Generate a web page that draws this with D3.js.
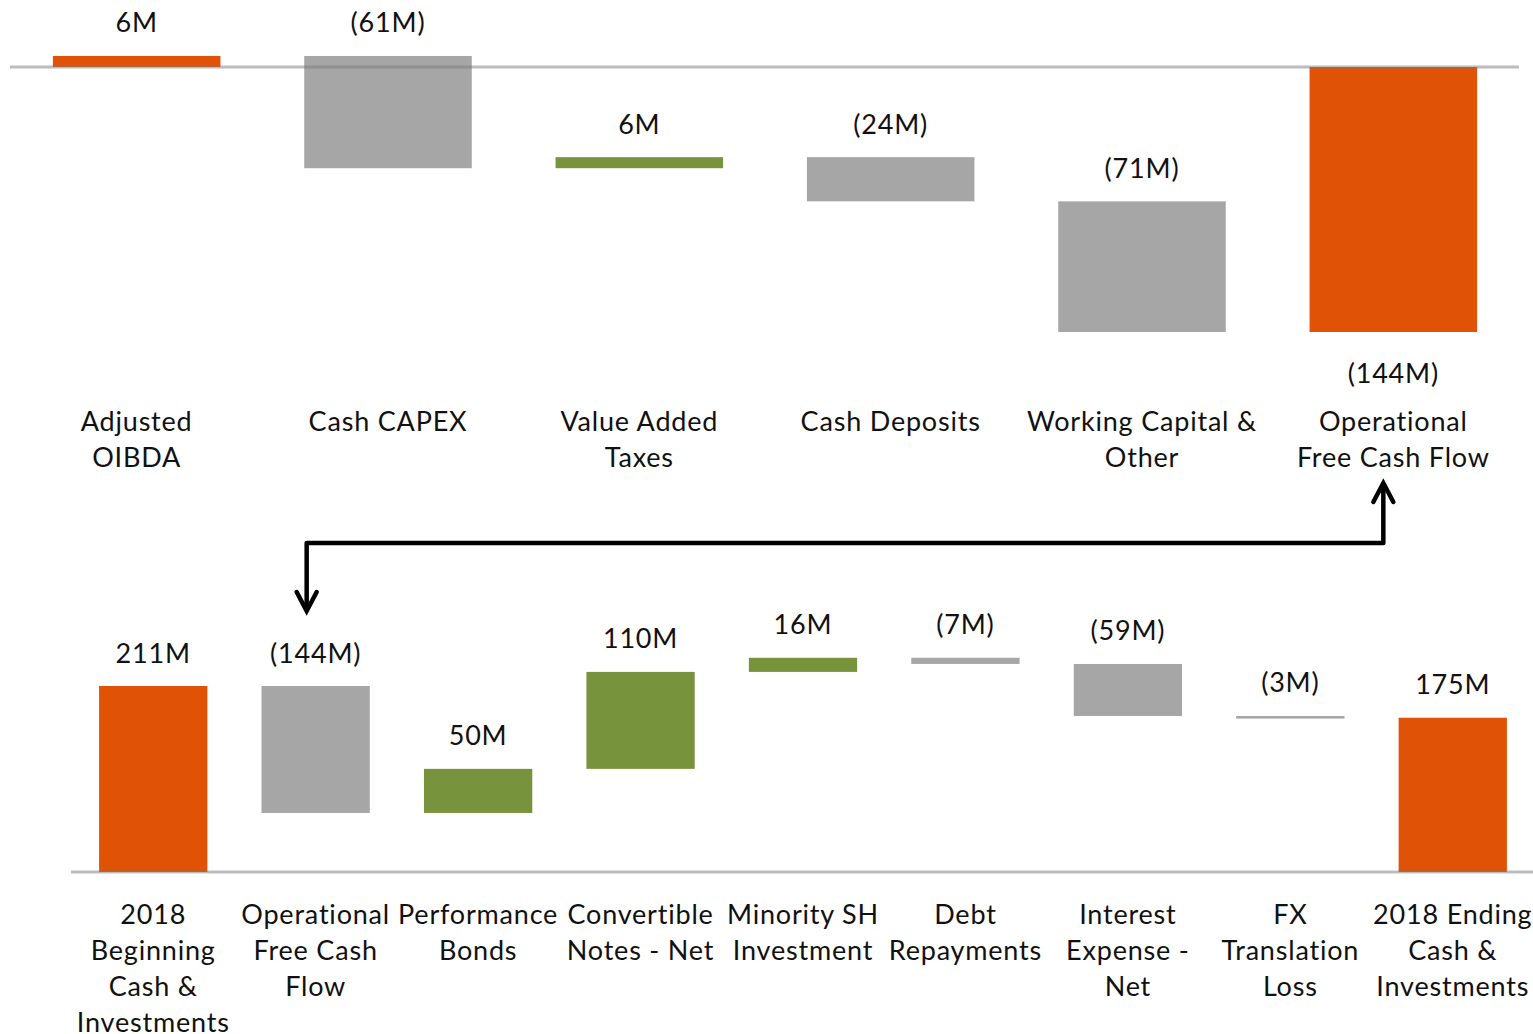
<!DOCTYPE html>
<html>
<head>
<meta charset="utf-8">
<script src="https://cdn.jsdelivr.net/npm/d3@7"></script>
<style>
  body { margin: 0; background: #fff; }
  text { font-family: Lato, "Open Sans", sans-serif; fill: #111; letter-spacing: 0.8px; }
</style>
</head>
<body>
<div id="chart"></div>
<script>
// top waterfall: from adjusted OIBDA to operational free cash flow
const topLabels = [
  ["Adjusted", "OIBDA"],
  ["Cash CAPEX"],
  ["Value Added", "Taxes"],
  ["Cash Deposits"],
  ["Working Capital &", "Other"],
  ["Operational", "Free Cash Flow"]
];
const topValues = [6, -61, 6, -24, -71, -144];
const topTypes = ["total", "delta", "delta", "delta", "delta", "total"];

// bottom waterfall: cash bridge for 2018
const botLabels = [
  ["2018", "Beginning", "Cash &", "Investments"],
  ["Operational", "Free Cash", "Flow"],
  ["Performance", "Bonds"],
  ["Convertible", "Notes - Net"],
  ["Minority SH", "Investment"],
  ["Debt", "Repayments"],
  ["Interest", "Expense -", "Net"],
  ["FX", "Translation", "Loss"],
  ["2018 Ending", "Cash &", "Investments"]
];
const botValues = [211, -144, 50, 110, 16, -7, -59, -3, 175];
const botTypes = ["total", "delta", "delta", "delta", "delta", "delta", "delta", "delta", "total"];

const colors = { total: "#E05206", up: "#77933C", down: "#A6A6A6" };

const W = 1533, H = 1034;
const svg = d3.select("#chart").append("svg")
  .attr("width", W)
  .attr("height", H);

const fmt = (v) => v < 0 ? "(" + Math.abs(v) + "M)" : v + "M";

const buildSteps = (values, types) => {
  let run = 0;
  return values.map((v, i) => {
    let y0, y1;
    if (types[i] == "total") {
      y0 = 0; y1 = v; run = v;
    } else {
      y0 = run; y1 = run + v; run = y1;
    }
    return { i: i, v: v, type: types[i], y0: y0, y1: y1 };
  });
};

const drawWaterfall = (opts) => {
  const steps = buildSteps(opts.values, opts.types);
  const x = d3.scaleBand()
    .domain(d3.range(opts.values.length))
    .range(opts.xRange)
    .paddingInner(opts.pad)
    .paddingOuter(opts.pad / 2);
  const y = d3.scaleLinear().domain(opts.yDomain).range(opts.yRange);
  const g = svg.append("g");

  g.selectAll("rect.bar")
    .data(steps)
    .join("rect")
    .attr("class", "bar")
    .attr("x", (d) => x(d.i))
    .attr("width", x.bandwidth())
    .attr("y", (d) => y(Math.max(d.y0, d.y1)))
    .attr("height", (d) => Math.max(1.5, Math.abs(y(d.y0) - y(d.y1))))
    .attr("fill", (d) => d.type == "total" ? colors.total : (d.v >= 0 ? colors.up : colors.down));

  // base line sits over the bars, semi transparent
  g.append("line")
    .attr("x1", opts.xRange[0] - 1)
    .attr("x2", opts.xRange[1])
    .attr("y1", y(0))
    .attr("y2", y(0))
    .attr("stroke", "#7a7a7a")
    .attr("stroke-opacity", 0.5)
    .attr("stroke-width", 3);

  g.selectAll("text.val")
    .data(steps)
    .join("text")
    .attr("class", "val")
    .attr("x", (d) => x(d.i) + x.bandwidth() / 2)
    .attr("y", (d) => {
      if (d.type == "total" && d.v < 0) return y(d.v) + 40;
      return y(Math.max(d.y0, d.y1)) - 34;
    })
    .attr("text-anchor", "middle")
    .attr("dominant-baseline", "central")
    .style("font-size", "27px")
    .text((d) => fmt(d.v));

  const cat = g.selectAll("text.cat")
    .data(opts.labels)
    .join("text")
    .attr("class", "cat")
    .attr("text-anchor", "middle")
    .style("font-size", "27px");
  cat.selectAll("tspan")
    .data((d, i) => d.map((line, k) => ({ line: line, k: k, i: i })))
    .join("tspan")
    .attr("x", (d) => x(d.i) + x.bandwidth() / 2)
    .attr("y", (d) => opts.labelY + d.k * 36)
    .attr("dominant-baseline", "central")
    .text((d) => d.line);

  return x;
};

const xTop = drawWaterfall({
  values: topValues, types: topTypes, labels: topLabels,
  xRange: [11, 1519], pad: 1 / 3,
  yDomain: [0, -144], yRange: [67, 332],
  labelY: 420
});

const xBot = drawWaterfall({
  values: botValues, types: botTypes, labels: botLabels,
  xRange: [72, 1534], pad: 1 / 3,
  yDomain: [0, 211], yRange: [872, 686],
  labelY: 913
});

// connector arrow from operational free cash flow (top) to the bottom bridge
const ax1 = xTop(5) + xTop.bandwidth() / 2 - 10;
const ax2 = xBot(1) + xBot.bandwidth() / 2 - 9;
const ay = 543;
svg.append("path")
  .attr("d", `M${ax1},484 L${ax1},${ay} L${ax2},${ay} L${ax2},610`)
  .attr("fill", "none")
  .attr("stroke", "#000")
  .attr("stroke-width", 4.5)
  .attr("stroke-linejoin", "round");
svg.append("path")
  .attr("d", `M${ax1 - 10},502 L${ax1},483 L${ax1 + 10},502`)
  .attr("fill", "none")
  .attr("stroke", "#000")
  .attr("stroke-width", 4.5)
  .attr("stroke-linecap", "round")
  .attr("stroke-linejoin", "miter");
svg.append("path")
  .attr("d", `M${ax2 - 10},592 L${ax2},611 L${ax2 + 10},592`)
  .attr("fill", "none")
  .attr("stroke", "#000")
  .attr("stroke-width", 4.5)
  .attr("stroke-linecap", "round")
  .attr("stroke-linejoin", "miter");
</script>
</body>
</html>
